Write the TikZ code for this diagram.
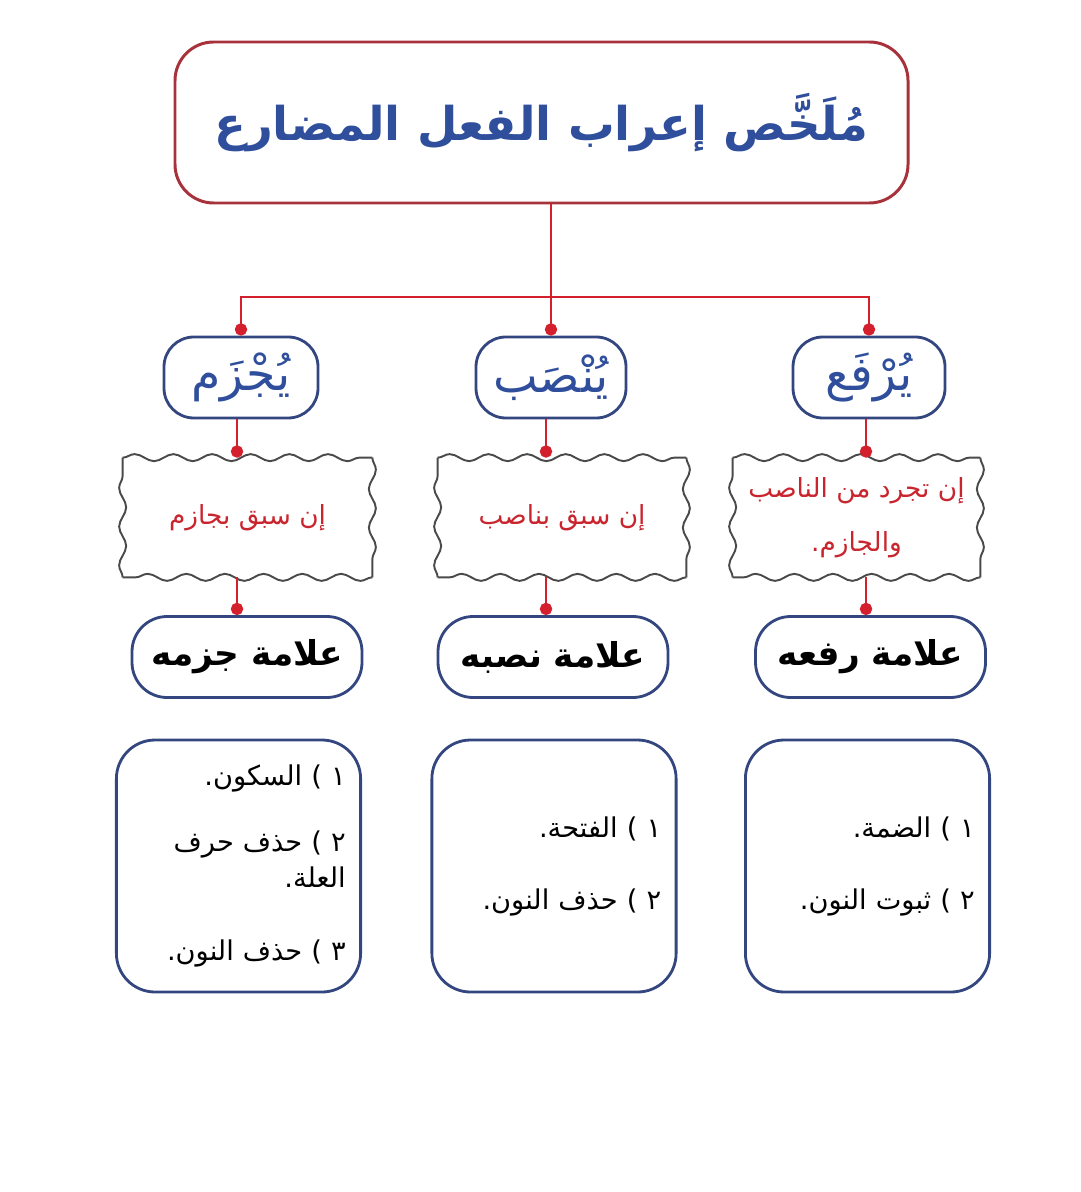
\documentclass[tikz,border=0pt]{standalone}
\usepackage{fontspec}
\usepackage{tikz}
\usetikzlibrary{arrows.meta}
\usetikzlibrary{decorations.pathmorphing}
\TeXXeTstate=1
\newfontfamily\arabicfont[Script=Arabic]{DejaVu Sans}
\newcommand{\artext}[1]{{\arabicfont\beginR #1\endR}}
\definecolor{titlered}{HTML}{A8323B}
\definecolor{linkred}{HTML}{D3202C}
\definecolor{boxblue}{HTML}{33467F}
\definecolor{textblue}{HTML}{2F4E9C}
\definecolor{condred}{HTML}{C9252E}
\definecolor{wavegray}{HTML}{4A4A4A}

\begin{document}
\begin{tikzpicture}[x=0.02cm,y=-0.02cm,
  link/.style={linkred,line width=1.4pt,-{Circle[length=7pt,width=7pt]}},
  trunk/.style={linkred,line width=1.4pt},
  wave/.style={draw=wavegray,line width=1.1pt,decorate,
    decoration={snake,segment length=22pt,amplitude=2pt}},
  title box/.style={draw=titlered,line width=1.7pt,rounded corners=22pt,
    minimum width=733*0.02cm,minimum height=161*0.02cm,text=textblue,
    font=\bfseries\fontsize{26.5}{32}\selectfont},
  verb box/.style={draw=boxblue,line width=1.6pt,rounded corners=17pt,
    minimum height=81*0.02cm,text=textblue,font=\fontsize{27}{30}\selectfont},
  cond box/.style={minimum height=119*0.02cm,text=condred,align=center,
    font=\fontsize{15}{31}\selectfont},
  sign box/.style={draw=boxblue,line width=1.6pt,rounded corners=20pt,
    minimum width=230*0.02cm,minimum height=81*0.02cm,
    font=\bfseries\fontsize{19.5}{24}\selectfont},
  list box/.style={draw=boxblue,line width=1.6pt,rounded corners=22pt,
    minimum height=252*0.02cm,inner xsep=8.5pt,text width=122pt,align=right,
    font=\fontsize{15.5}{19}\selectfont}]

\useasboundingbox (0,0) rectangle (1080,1192);

% title
\node[title box] (title) at (541.5,122.5) {\artext{مُلَخَّص إعراب الفعل المضارع}};

% verbs
\node[verb box,minimum width=154*0.02cm] (jazm) at (241,377.5) {\artext{يُجْزَم}};
\node[verb box,minimum width=150*0.02cm] (nasb) at (551,377.5) {\artext{يُنْصَب}};
\node[verb box,minimum width=152*0.02cm] (rafa) at (869,377.5) {\artext{يُرْفَع}};

% conditions
\node[cond box,minimum width=249*0.02cm] (jazm-cond) at (247.5,517.5) {\artext{إن سبق بجازم}};
\node[cond box,minimum width=248*0.02cm] (nasb-cond) at (562,517.5) {\artext{إن سبق بناصب}};
\node[cond box,minimum width=247*0.02cm] (rafa-cond) at (856.5,517.5)
  {\artext{إن تجرد من الناصب}\\ \artext{والجازم.}};

\foreach \c in {jazm-cond,nasb-cond,rafa-cond}{
  \draw[wave] (\c.north west) -- (\c.north east);
  \draw[wave] (\c.north east) -- (\c.south east);
  \draw[wave] (\c.south east) -- (\c.south west);
  \draw[wave] (\c.south west) -- (\c.north west);
}

% signs
\node[sign box] (jazm-sign) at (247,657) {\artext{علامة جزمه}};
\node[sign box] (nasb-sign) at (553,657) {\artext{علامة نصبه}};
\node[sign box] (rafa-sign) at (870.5,657) {\artext{علامة رفعه}};

% lists
\node[list box] (jazm-list) at (238.5,866)
  {\artext{١ ) السكون.}\\[19pt] \artext{٢ ) حذف حرف}\\[1pt] \artext{العلة.}\\[23pt] \artext{٣ ) حذف النون.}};
\node[list box] (nasb-list) at (554,866)
  {\artext{١ ) الفتحة.}\\[22pt] \artext{٢ ) حذف النون.}};
\node[list box] (rafa-list) at (867.5,866)
  {\artext{١ ) الضمة.}\\[22pt] \artext{٢ ) ثبوت النون.}};

% connectors
\coordinate (bus) at (551,297);
\draw[trunk] (bus |- title.south) -- (bus);
\draw[link] (bus) -| (jazm.north);
\draw[link] (bus) -- (nasb.north);
\draw[link] (bus) -| (rafa.north);

\foreach \v/\x in {jazm/237,nasb/546,rafa/866}{
  \draw[link] (\x,0 |- \v.south) -- (\x,0 |- \v-cond.north);
  \draw[link] (\x,0 |- \v-cond.south) -- (\x,0 |- \v-sign.north);
}

\end{tikzpicture}
\end{document}
